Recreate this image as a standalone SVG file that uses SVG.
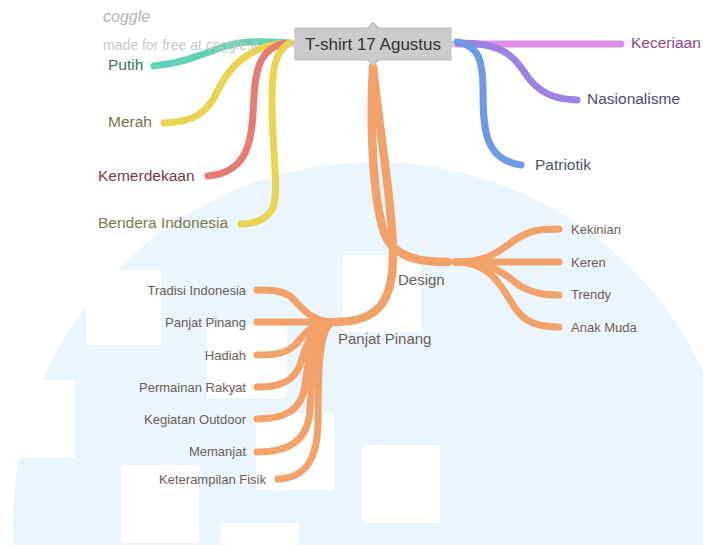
<svg xmlns="http://www.w3.org/2000/svg" width="703" height="545" viewBox="0 0 703 545">
<style>
.br{fill:none;stroke-linecap:round;stroke-linejoin:round;stroke-width:7}
.o{stroke:#f2a268}
.m{stroke-width:8.5}
.t{font-family:"Liberation Sans",Arial,sans-serif}
.big{font-size:15.5px}
.sub{font-size:13px;fill:#6e5d55}
.mid{font-size:15px;fill:#6e5d55}
.wr{fill:#ffffff}
</style>
<rect width="703" height="545" fill="#ffffff"/>
<g id="background">
<circle cx="375" cy="524" r="362" fill="#eaf5fd"/>
<rect class="wr" x="86" y="270" width="75" height="75"/>
<rect class="wr" x="207" y="326" width="80" height="72"/>
<rect class="wr" x="256" y="413" width="78" height="77"/>
<rect class="wr" x="343" y="255" width="78" height="77"/>
<rect class="wr" x="362" y="445" width="78" height="78"/>
<rect class="wr" x="121" y="465" width="78" height="78"/>
<rect class="wr" x="221" y="523" width="78" height="30"/>
<rect class="wr" x="0" y="380" width="75" height="78"/>
</g>
<g id="connectors">
<path class="br" stroke="#5ed4b4" d="M290,43 C270,42 250,40 230,45 C205,52 190,62 154,66"/>
<path class="br" stroke="#ead34e" d="M288,43 C250,45 230,65 218,90 C208,112 195,122 164,123"/>
<path class="br" stroke="#e57b72" d="M285,43 C262,48 256,65 254,95 C252,140 250,172 208,176"/>
<path class="br" stroke="#ead34e" d="M290,43 C275,50 272,70 272,100 C272,150 280,195 272,210 C264,222 252,224 241,224"/>
<path class="br" stroke="#dd8ee6" d="M457,44 L621,44"/>
<path class="br" stroke="#9b82e3" d="M458,43 C510,43 515,60 530,80 C545,97 560,99 577,100"/>
<path class="br" stroke="#6d9be3" d="M457,42 C478,45 483,60 483,90 C483,130 485,160 521,165"/>
<path class="br o m" d="M373,67 C370,120 372,200 385,235 C395,258 420,262 448,262"/>
<path class="br o m" d="M373,67 C378,120 392,200 393,250 C394,300 380,322 335,322"/>
<path class="br o" d="M455,262 C490,262 500,250 515,240 C530,230 540,229 559,229"/>
<path class="br o" d="M455,262 L559,262"/>
<path class="br o" d="M455,262 C495,262 505,275 520,286 C535,294 545,295 559,295"/>
<path class="br o" d="M455,262 C490,262 500,285 510,300 C520,318 530,327 559,327"/>
<path class="br o" d="M333,322 C310,322 300,305 290,296 C280,290 270,290 257,290"/>
<path class="br o" d="M333,322 L257,322"/>
<path class="br o" d="M333,322 C310,322 305,335 295,345 C285,354 275,355 257,355"/>
<path class="br o" d="M333,322 C310,324 305,350 300,365 C293,382 280,387 257,387"/>
<path class="br o" d="M333,322 C312,325 308,360 305,385 C302,410 285,419 257,419"/>
<path class="br o" d="M333,322 C314,326 312,370 310,410 C308,440 290,452 257,452"/>
<path class="br o" d="M333,322 C318,328 318,380 318,420 C318,460 305,478 278,479"/>
</g>
<g id="branding" class="t">
<text x="103" y="22" font-size="16" font-style="italic" fill="#b4b4b4">coggle</text>
<text x="103" y="50" font-size="14" fill="#c4c4c4" opacity="0.9">made for free at coggle.it</text>
</g>
<g id="root">
<polygon points="295,28 367,28 373,22 379,28 451,28 451,40 455,44 451,48 451,60 379,60 373,66 367,60 295,60 295,48 291,44 295,40" fill="#cbcbcb" stroke="#bdbdbd" stroke-width="1"/>
<text class="t" x="373" y="50" font-size="17" fill="#333333" text-anchor="middle">T-shirt 17 Agustus</text>
</g>
<g id="putih"><text class="t big" x="108" y="70" fill="#3d7060">Putih</text></g>
<g id="merah"><text class="t big" x="108" y="127" fill="#7d7250">Merah</text></g>
<g id="kemerdekaan"><text class="t big" x="98" y="181" fill="#7a3d3d">Kemerdekaan</text></g>
<g id="bendera"><text class="t big" x="98" y="228" fill="#7a7a50">Bendera Indonesia</text></g>
<g id="keceriaan"><text class="t big" x="631" y="48" fill="#8b4a8f">Keceriaan</text></g>
<g id="nasionalisme"><text class="t big" x="587" y="104" fill="#4a4a72">Nasionalisme</text></g>
<g id="patriotik"><text class="t big" x="535" y="170" fill="#4a5570">Patriotik</text></g>
<g id="design"><text class="t mid" x="398" y="285">Design</text></g>
<g id="panjat"><text class="t mid" x="338" y="344">Panjat Pinang</text></g>
<g id="kekinian"><text class="t sub" x="571" y="234">Kekinian</text></g>
<g id="keren"><text class="t sub" x="571" y="267">Keren</text></g>
<g id="trendy"><text class="t sub" x="571" y="299">Trendy</text></g>
<g id="anakmuda"><text class="t sub" x="571" y="332">Anak Muda</text></g>
<g id="tradisi"><text class="t sub" x="246" y="295" text-anchor="end">Tradisi Indonesia</text></g>
<g id="panjat2"><text class="t sub" x="246" y="327" text-anchor="end">Panjat Pinang</text></g>
<g id="hadiah"><text class="t sub" x="246" y="360" text-anchor="end">Hadiah</text></g>
<g id="permainan"><text class="t sub" x="246" y="392" text-anchor="end">Permainan Rakyat</text></g>
<g id="kegiatan"><text class="t sub" x="246" y="424" text-anchor="end">Kegiatan Outdoor</text></g>
<g id="memanjat"><text class="t sub" x="246" y="456" text-anchor="end">Memanjat</text></g>
<g id="keterampilan"><text class="t sub" x="266" y="484" text-anchor="end">Keterampilan Fisik</text></g>
</svg>
